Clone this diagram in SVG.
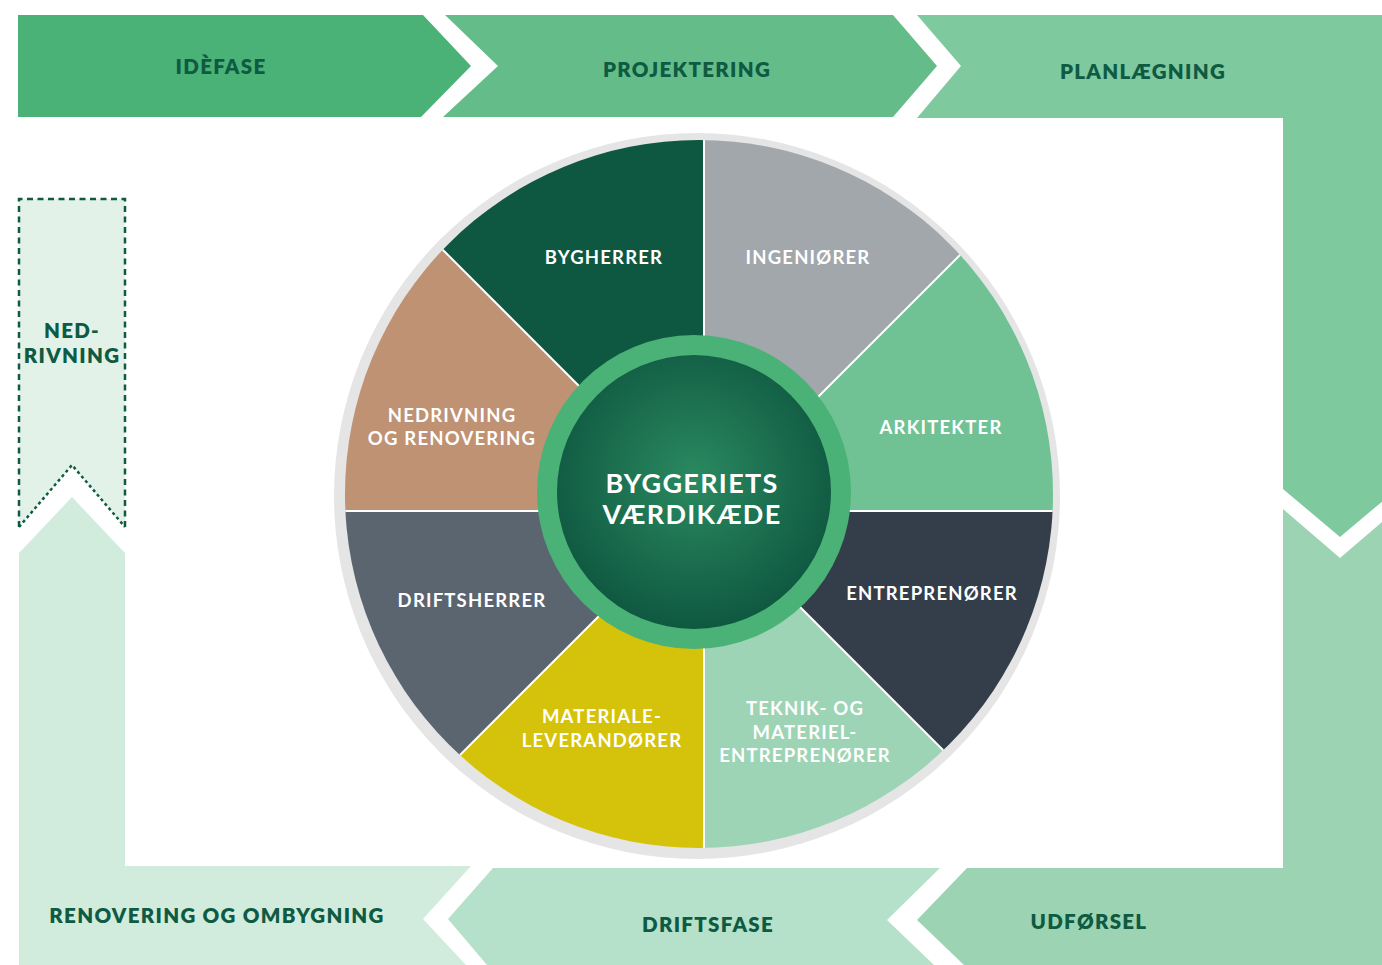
<svg xmlns="http://www.w3.org/2000/svg" width="1382" height="965" viewBox="0 0 1382 965">
<defs>
<style>
.band{font-family:Lato,"Open Sans","Liberation Sans",sans-serif;font-weight:800;font-size:20.5px;fill:#0e5a42;text-anchor:middle;letter-spacing:1.3px}
.wl{font-family:Lato,"Open Sans","Liberation Sans",sans-serif;font-weight:700;font-size:18.5px;fill:#ffffff;text-anchor:middle;letter-spacing:1.2px}
.ct{font-family:Lato,"Open Sans","Liberation Sans",sans-serif;font-weight:700;font-size:27px;fill:#ffffff;text-anchor:middle;letter-spacing:1.3px}
.div{stroke:#ffffff;stroke-width:2;fill:none}
</style>
<clipPath id="pie"><circle cx="699" cy="494" r="354"/></clipPath>
<radialGradient id="core" cx="0.5" cy="0.45" r="0.55">
<stop offset="0" stop-color="#2a8a60"/>
<stop offset="1" stop-color="#0f5841"/>
</radialGradient>
</defs>
<rect width="1382" height="965" fill="#ffffff"/>

<g id="idefase">
<polygon points="18,15 423,15 471,66 421,117 18,117" fill="#4ab277"/>
<text class="band" x="221" y="74">IDÈFASE</text>
</g>
<g id="projektering">
<polygon points="445,15 893,15 937,66 893,117 443,117 498,66" fill="#64bd89"/>
<text class="band" x="687" y="77">PROJEKTERING</text>
</g>
<g id="planlaegning">
<polygon points="917,15 1400,15 1400,489 1397,489 1340,537 1283,489 1283,118 917,118 961,66" fill="#7fc99f"/>
<text class="band" x="1143" y="79">PLANLÆGNING</text>
</g>
<g id="udfoersel">
<polygon points="1283,509 1340,558 1397,509 1400,509 1400,965 964,965 917,920 967,868 1283,868" fill="#9cd4b3"/>
<text class="band" x="1089" y="929">UDFØRSEL</text>
</g>
<g id="driftsfase">
<polygon points="493,868 940,868 887,920 934,965 487,965 448,919" fill="#b5e0c9"/>
<text class="band" x="708" y="932">DRIFTSFASE</text>
</g>
<g id="renovering">
<polygon points="19,553 72,497 125,553 125,866 471,866 423,919 466,965 19,965" fill="#d1ecdd"/>
<text class="band" x="217" y="923">RENOVERING OG OMBYGNING</text>
</g>
<g id="nedrivning">
<polygon points="19,199 125,199 125,527 72,465 19,527" fill="#e2f2e9"/>
<path d="M19,527 V199 H125 V527" fill="none" stroke="#0e5a42" stroke-width="2.5" stroke-dasharray="6 4.5"/>
<path d="M19,527 L72,465 L125,527" fill="none" stroke="#0e5a42" stroke-width="2.5" stroke-dasharray="3 3"/>
<text class="band" x="72" y="338">NED-</text>
<text class="band" x="72" y="363">RIVNING</text>
</g>

<g id="wheel">
<circle cx="697" cy="496" r="363" fill="#e5e5e5"/>
<g clip-path="url(#pie)">
<g id="ingenioerer">
<polygon points="704,511 704,-100 1315,-100" fill="#a2a7ac"/>
</g>
<g id="arkitekter">
<polygon points="704,511 1315,-100 1400,-100 1400,511" fill="#70c294"/>
</g>
<g id="entreprenoerer">
<polygon points="704,511 1400,511 1400,1207" fill="#343e4a"/>
</g>
<g id="teknik">
<polygon points="704,511 1400,1207 704,1207" fill="#9dd4b5"/>
</g>
<g id="materiale">
<polygon points="704,511 704,1207 8,1207" fill="#d5c20a"/>
</g>
<g id="driftsherrer">
<polygon points="704,511 8,1207 0,1207 0,511" fill="#5b6570"/>
</g>
<g id="nedrivning-renovering">
<polygon points="704,511 0,511 0,-193" fill="#bf9274"/>
</g>
<g id="bygherrer">
<polygon points="704,511 0,-193 704,-193" fill="#0e5842"/>
</g>
<g id="dividers">
<path class="div" d="M704,511 V-100 M704,511 V1207 M704,511 H0 M704,511 H1400 M704,511 L0,-193 M704,511 L1400,-185 M704,511 L0,1215 M704,511 L1400,1207"/>
</g>
</g>
<text class="wl" x="604" y="264">BYGHERRER</text>
<text class="wl" x="808" y="264">INGENIØRER</text>
<text class="wl" x="941" y="434">ARKITEKTER</text>
<text class="wl" x="932" y="600">ENTREPRENØRER</text>
<text class="wl" x="805" y="715">TEKNIK- OG</text>
<text class="wl" x="805" y="739">MATERIEL-</text>
<text class="wl" x="805" y="762">ENTREPRENØRER</text>
<text class="wl" x="602" y="723">MATERIALE-</text>
<text class="wl" x="602" y="747">LEVERANDØRER</text>
<text class="wl" x="472" y="607">DRIFTSHERRER</text>
<text class="wl" x="452" y="422">NEDRIVNING</text>
<text class="wl" x="452" y="445">OG RENOVERING</text>
</g>

<g id="center">
<circle cx="694" cy="492" r="157" fill="#4ab277"/>
<circle cx="694" cy="492" r="137" fill="url(#core)"/>
<text class="ct" x="692" y="493">BYGGERIETS</text>
<text class="ct" x="692" y="524">VÆRDIKÆDE</text>
</g>
</svg>
